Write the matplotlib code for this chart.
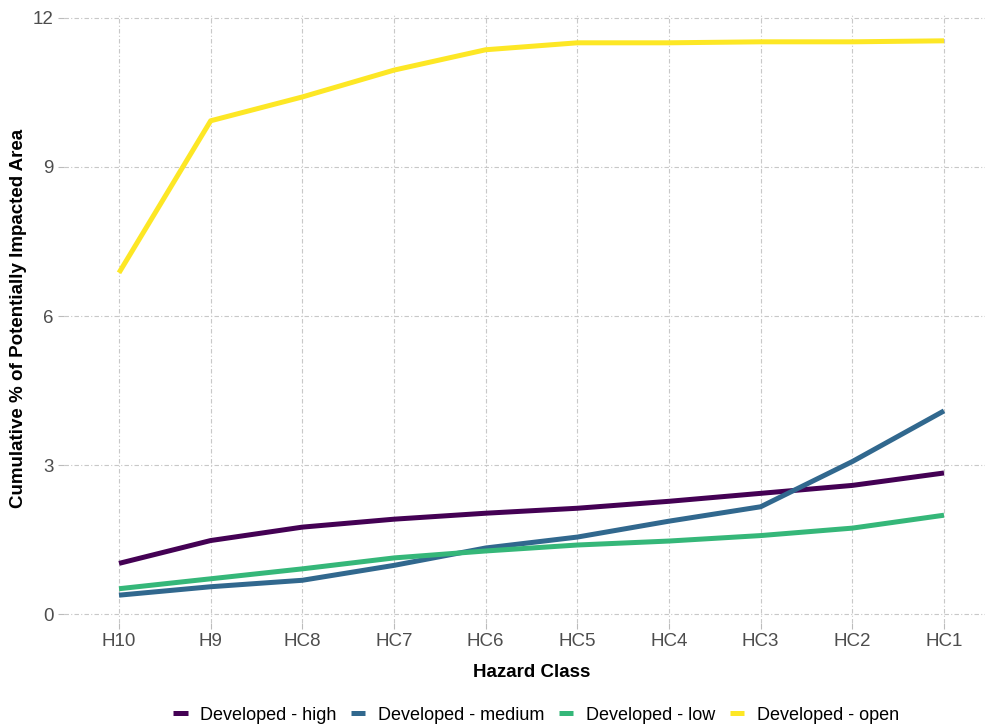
import matplotlib
matplotlib.use('Agg')
import matplotlib.pyplot as plt

plt.rcParams['font.family'] = ['Liberation Sans', 'DejaVu Sans']

classes = ['H10', 'H9', 'HC8', 'HC7', 'HC6', 'HC5', 'HC4', 'HC3', 'HC2', 'HC1']
dev_high = [1.02, 1.48, 1.75, 1.91, 2.03, 2.13, 2.27, 2.43, 2.59, 2.84]
dev_medium = [0.38, 0.55, 0.68, 0.98, 1.33, 1.55, 1.87, 2.16, 3.07, 4.09]
dev_low = [0.51, 0.71, 0.91, 1.13, 1.27, 1.39, 1.47, 1.58, 1.73, 1.99]
dev_open = [6.87, 9.93, 10.41, 10.95, 11.36, 11.50, 11.50, 11.52, 11.52, 11.54]

series = [('Developed - high', dev_high, '#440154'),
          ('Developed - medium', dev_medium, '#31688E'),
          ('Developed - low', dev_low, '#35B779'),
          ('Developed - open', dev_open, '#FDE725')]

fig = plt.figure(figsize=(9.85, 7.27), dpi=100)
ax = fig.add_axes([64/985, 104/727, 935/985, 610/727])

x = list(range(len(classes)))
for name, vals, col in series:
    ax.plot(x, vals, color=col, lw=3.6, label=name, solid_capstyle='butt')

ax.set_xlim(-0.6, 9.6)
ax.set_ylim(-0.18, 12.1)
ax.set_xticks(x)
ax.set_xticklabels(classes)
ax.set_yticks([0, 3, 6, 9, 12])
ax.grid(True, color='#C8C8C8', lw=0.8, linestyle=(0, (4, 2, 1, 2)))
ax.set_axisbelow(True)
for s in ax.spines.values():
    s.set_visible(False)
ax.tick_params(colors='#BBBBBB', length=4, labelcolor='#4D4D4D', labelsize=13.5)

ax.set_xlabel('Hazard Class', fontsize=13.5, fontweight='bold', labelpad=10)
ax.set_ylabel('Cumulative % of Potentially Impacted Area', fontsize=13.5,
              fontweight='bold', labelpad=4)

leg = fig.legend(loc='center', bbox_to_anchor=(536/985, 1 - 715/727), ncol=4,
                 frameon=False, fontsize=13, handlelength=0.8, handletextpad=0.7,
                 columnspacing=0.8)
for h in leg.get_lines():
    h.set_linewidth(3.6)

fig.savefig('out.png', dpi=100)
